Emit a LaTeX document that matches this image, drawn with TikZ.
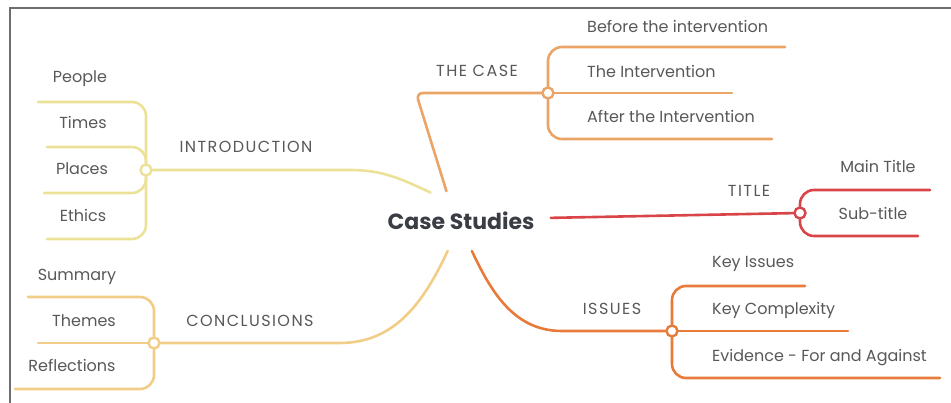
\documentclass[tikz,border=0pt]{standalone}
\usepackage{fontspec}
\setmainfont{Poppins}
\usetikzlibrary{shapes.geometric}

\definecolor{introcol}{RGB}{235,226,152}
\definecolor{conclcol}{RGB}{242,205,135}
\definecolor{casecol}{RGB}{234,164,102}
\definecolor{titlecol}{RGB}{216,68,72}
\definecolor{issuescol}{RGB}{232,122,58}
\definecolor{txtcol}{RGB}{88,88,88}
\definecolor{maincol}{RGB}{58,62,68}
\definecolor{framecol}{RGB}{110,110,110}

\tikzset{
  lbl/.style={text=txtcol, font=\fontsize{16}{19}\selectfont, inner sep=0pt},
  caps/.style={lbl, font=\fontsize{16}{19}\selectfont\addfontfeatures{LetterSpace=9}},
  br/.style={line width=2.6pt, line cap=round},
  twig/.style={br, rounded corners=14pt},
  hub/.style={circle, draw, fill=white, line width=2.4pt, minimum size=11pt, inner sep=0pt}
}

\begin{document}
\begin{tikzpicture}[x=1pt,y=-1pt]
\useasboundingbox (0,0) rectangle (951,403);
\draw[framecol, line width=1.4pt] (951,8) -- (10,8) -- (10,403);

% centre
\node[ellipse, minimum width=180pt, minimum height=60pt, inner xsep=-20pt, inner ysep=0pt,
      text=maincol, font=\fontsize{22}{26}\selectfont\bfseries] (cs) at (461,221) {Case Studies};

% hubs
\node[hub, draw=introcol]  (intro)  at (146,170) {};
\node[hub, draw=conclcol]  (concl)  at (154,343) {};
\node[hub, draw=casecol]   (case)   at (548,93)  {};
\node[hub, draw=titlecol]  (title)  at (800,213) {};
\node[hub, draw=issuescol] (issues) at (672,331) {};

% bends and line ends
\coordinate (introK)  at (350,170);
\coordinate (conclK)  at (340,343);
\coordinate (caseK)   at (416,93);
\coordinate (issuesK) at (562,331);

\coordinate (peopleE)  at (38,102);
\coordinate (timesE)   at (47,147);
\coordinate (placesE)  at (44,193);
\coordinate (ethicsE)  at (47,239);
\coordinate (summaryE) at (28,297);
\coordinate (themesE)  at (38,343);
\coordinate (reflE)    at (15,389);
\coordinate (beforeE)  at (785,47);
\coordinate (interE)   at (732,93);
\coordinate (afterE)   at (772,139);
\coordinate (mainE)    at (930,190);
\coordinate (subE)     at (918,236);
\coordinate (keyE)     at (805,286);
\coordinate (complexE) at (848,331);
\coordinate (evidE)    at (940,378);

% labels
\node[caps, anchor=base] (introL)  at (246,153) {INTRODUCTION};
\node[caps, anchor=base] (conclL)  at (250,327) {CONCLUSIONS};
\node[caps, anchor=base] (caseL)   at (477,77)  {THE CASE};
\node[caps, anchor=base] (titleL)  at (749,197) {TITLE};
\node[caps, anchor=base] (issuesL) at (612,315) {ISSUES};

\node[lbl, anchor=base] (people)  at (80,83)  {People};
\node[lbl, anchor=base] (times)   at (83,129) {Times};
\node[lbl, anchor=base] (places)  at (82,175) {Places};
\node[lbl, anchor=base] (ethics)  at (83,222) {Ethics};
\node[lbl, anchor=base] (summary) at (77,281) {Summary};
\node[lbl, anchor=base] (themes)  at (84,327) {Themes};
\node[lbl, anchor=base] (refl)    at (72,372) {Reflections};
\node[lbl, anchor=base] (maint)   at (878,173) {Main Title};
\node[lbl, anchor=base] (subt)    at (873,220) {Sub-title};

\node[lbl, anchor=base west] (before)  at (587,33)  {Before the intervention};
\node[lbl, anchor=base west] (inter)   at (587,78)  {The Intervention};
\node[lbl, anchor=base west] (after)   at (587,123) {After the Intervention};
\node[lbl, anchor=base west] (keyiss)  at (712,268) {Key Issues};
\node[lbl, anchor=base west] (complex) at (712,315) {Key Complexity};
\node[lbl, anchor=base west] (evid)    at (712,362) {Evidence - For and Against};

% main branches
\draw[br, introcol] (cs.137) to[out=155,in=0] (introK) -- (intro);
\draw[br, conclcol] (cs.246) to[out=245,in=0] (conclK) -- (concl);
\draw[br, casecol, rounded corners=7pt] (cs.116) -- (caseK) -- (case);
\draw[br, titlecol] (cs.2) -- (title);
\draw[br, issuescol] (cs.290) to[out=-65,in=180] (issuesK) -- (issues);

% sub branches
\draw[twig, introcol] (intro) |- (peopleE);
\draw[twig, introcol] (intro) |- (timesE);
\draw[twig, introcol] (intro) |- (placesE);
\draw[twig, introcol] (intro) |- (ethicsE);

\draw[twig, conclcol] (concl) |- (summaryE);
\draw[br, conclcol] (concl) -- (themesE);
\draw[twig, conclcol] (concl) |- (reflE);

\draw[twig, casecol] (case) |- (beforeE);
\draw[br, casecol] (case) -- (interE);
\draw[twig, casecol] (case) |- (afterE);

\draw[twig, titlecol] (title) |- (mainE);
\draw[twig, titlecol] (title) |- (subE);

\draw[twig, issuescol] (issues) |- (keyE);
\draw[br, issuescol] (issues) -- (complexE);
\draw[twig, issuescol] (issues) |- (evidE);

\end{tikzpicture}
\end{document}
